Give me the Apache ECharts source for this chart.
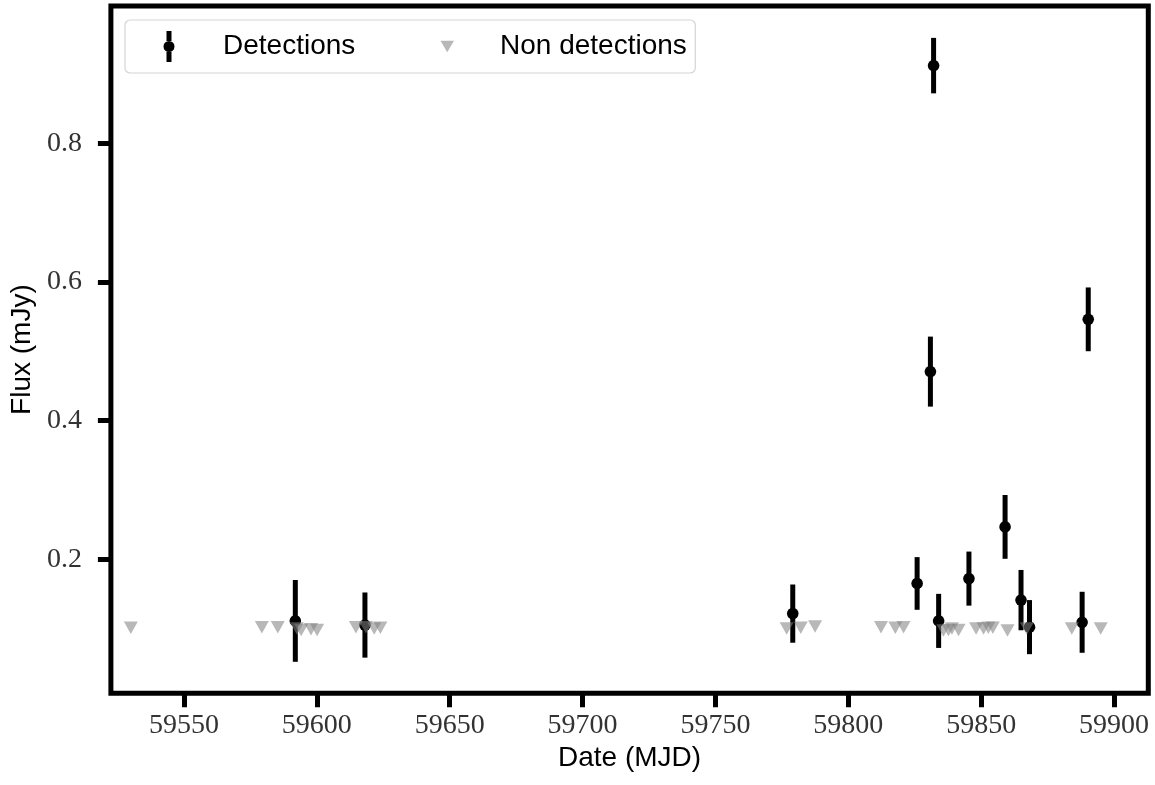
<!DOCTYPE html>
<html>
<head>
<meta charset="utf-8">
<title>Light curve</title>
<script src="https://cdn.jsdelivr.net/npm/echarts@6/dist/echarts.min.js"></script>
<style>
  html, body { margin: 0; padding: 0; background: #fff; }
  #chart { width: 1155px; height: 785px; }
</style>
</head>
<body>
<div id="chart"></div>
<script>
// Detections: date (MJD), flux (mJy), 1-sigma error (mJy)
const detMjd  = [59591.9, 59618.1, 59779.1, 59825.9, 59830.9, 59832.1, 59834.0, 59845.4, 59859.0, 59865.0, 59868.2, 59888.0, 59890.3];
const detFlux = [0.111, 0.105, 0.1215, 0.165, 0.4706, 0.912, 0.111, 0.172, 0.2466, 0.141, 0.102, 0.109, 0.546];
const detErr  = [0.059, 0.047, 0.042, 0.038, 0.0505, 0.040, 0.039, 0.039, 0.046, 0.0435, 0.039, 0.044, 0.046];

// Non detections: date (MJD), flux upper limit (mJy)
const ndMjd  = [59530.0, 59579.3, 59585.3, 59592.5, 59594.1, 59597.8, 59600.1,
                59614.7, 59618.5, 59621.6, 59623.9,
                59776.8, 59782.1, 59787.5, 59812.3, 59817.7, 59820.8,
                59835.8, 59837.7, 59839.0, 59841.5, 59848.1, 59850.9, 59852.7, 59854.4,
                59859.9, 59867.2, 59884.1, 59895.0];
const ndFlux = [0.101, 0.102, 0.102, 0.100, 0.098, 0.099, 0.098,
                0.102, 0.102, 0.100, 0.101,
                0.100, 0.101, 0.103, 0.102, 0.101, 0.102,
                0.097, 0.098, 0.100, 0.098, 0.100, 0.100, 0.101, 0.101,
                0.097, 0.100, 0.100, 0.100];

// Tick labels
const xTicks = [59550, 59600, 59650, 59700, 59750, 59800, 59850, 59900];
const yTicks = [0.2, 0.4, 0.6, 0.8];

const detData = detMjd.map((x, i) => [x, detFlux[i], detErr[i]]);
const ndData = ndMjd.map((x, i) => [x, ndFlux[i]]);

const serif = '"Liberation Serif", "DejaVu Serif", serif';
const sans = '"Liberation Sans", "DejaVu Sans", sans-serif';
const ndColor = 'rgba(128,128,128,0.7)';

const detIcon = 'path://M3,0 L8,0 L8,10 L3,10 Z M3,21 L8,21 L8,31 L3,31 Z M11,15.5 A5.5,5.5 0 1 1 0,15.5 A5.5,5.5 0 1 1 11,15.5 Z';
const ndIcon = 'path://M0,0 L13,0 L6.5,11 Z';

const chart = echarts.init(document.getElementById('chart'), null, { renderer: 'canvas' });

chart.setOption({
  animation: false,
  backgroundColor: '#fff',
  grid: {
    left: 109.3, right: 6.7, top: 6, bottom: 91.8,
    show: true, borderColor: '#000', borderWidth: 5, backgroundColor: 'transparent'
  },
  legend: [
    {
      data: [{ name: 'Detections', icon: detIcon }],
      left: 125, top: 20,
      padding: [11, 340, 11, 38.5],
      itemWidth: 11, itemHeight: 31,
      backgroundColor: '#fff',
      borderColor: '#d4d4d4', borderWidth: 1.2, borderRadius: 5,
      selectedMode: false,
      textStyle: { fontFamily: sans, fontSize: 28, color: '#000', lineHeight: 31, padding: [0, 0, 0, 43.5] }
    },
    {
      data: [{ name: 'Non detections', icon: ndIcon }],
      left: 440.5, top: 20,
      padding: [11, 0, 11, 0],
      itemWidth: 13.5, itemHeight: 11.5,
      selectedMode: false,
      textStyle: { fontFamily: sans, fontSize: 28, color: '#000', lineHeight: 31, padding: [0, 0, 0, 41] }
    }
  ],
  xAxis: {
    type: 'value',
    min: 59522.5, max: 59912.9,
    name: 'Date (MJD)', nameLocation: 'middle', nameGap: 42,
    nameTextStyle: { fontFamily: sans, fontSize: 28, color: '#000' },
    axisLine: { show: false },
    splitLine: { show: false },
    axisTick: { show: true, inside: false, length: 14, customValues: xTicks, lineStyle: { color: '#000', width: 5 } },
    axisLabel: { customValues: xTicks, fontFamily: serif, fontSize: 28, color: '#333', margin: 18, formatter: v => String(v) }
  },
  yAxis: {
    type: 'value',
    min: 0.0067, max: 0.998,
    name: 'Flux (mJy)', nameLocation: 'middle', nameGap: 71,
    nameTextStyle: { fontFamily: sans, fontSize: 28, color: '#000' },
    axisLine: { show: false },
    splitLine: { show: false },
    axisTick: { show: true, inside: false, length: 13, customValues: yTicks, lineStyle: { color: '#000', width: 5 } },
    axisLabel: { customValues: yTicks, fontFamily: serif, fontSize: 28, color: '#333', margin: 29, formatter: v => v.toFixed(1) }
  },
  series: [
    {
      name: 'Detections',
      type: 'custom',
      data: detData,
      itemStyle: { color: '#000' },
      z: 2,
      renderItem: function (params, api) {
        const x = api.value(0), y = api.value(1), e = api.value(2);
        const c = api.coord([x, y]);
        const hi = api.coord([x, y + e]);
        const lo = api.coord([x, y - e]);
        return {
          type: 'group',
          children: [
            { type: 'line', shape: { x1: c[0], y1: hi[1], x2: c[0], y2: lo[1] }, style: { stroke: '#000', lineWidth: 5 } },
            { type: 'circle', shape: { cx: c[0], cy: c[1], r: 5.8 }, style: { fill: '#000' } }
          ]
        };
      }
    },
    {
      name: 'Non detections',
      type: 'scatter',
      data: ndData,
      symbol: 'triangle',
      symbolRotate: 180,
      symbolSize: [14, 12.5],
      itemStyle: { color: ndColor },
      z: 3
    }
  ]
});
</script>
</body>
</html>
